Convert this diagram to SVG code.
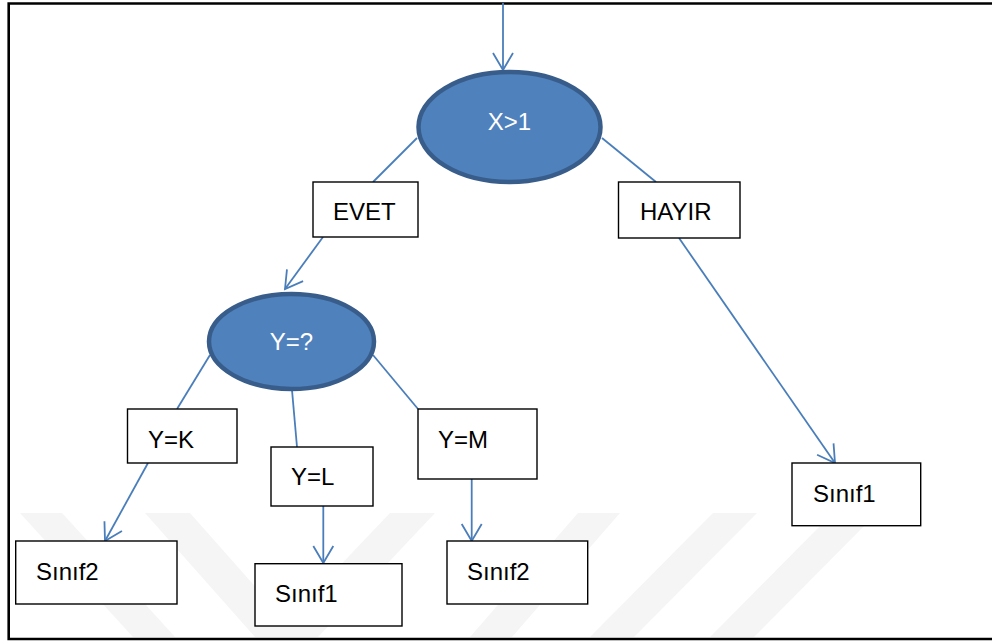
<svg xmlns="http://www.w3.org/2000/svg" width="992" height="642" viewBox="0 0 992 642">
  <style>
    .box { fill: #ffffff; stroke: #000000; stroke-width: 1.4; }
    .dec { fill: #4F81BD; stroke: #385D8A; stroke-width: 4.5; }
    .lbl { font-family: "Liberation Sans", Arial, sans-serif; font-size: 24px; fill: #000000; }
    .dlbl { font-family: "Liberation Sans", Arial, sans-serif; font-size: 24px; fill: #ffffff; }
    .edge { fill: none; stroke: #4A7EBB; stroke-width: 1.8; }
    .mark { fill: #F5F5F5; stroke: none; }
  </style>
  <defs>
    <marker id="open" markerUnits="userSpaceOnUse" viewBox="-20 -12 22 24" markerWidth="22" markerHeight="24" refX="0" refY="0" orient="auto" overflow="visible">
      <path d="M-17,-10 L0,0 L-17,10" fill="none" stroke="#4A7EBB" stroke-width="1.8"/>
    </marker>
  </defs>

  <rect x="0" y="0" width="992" height="642" fill="#ffffff"/>

  <!-- faint background stripes -->
  <g id="backdrop">
    <polygon class="mark" points="20,513 62,513 175,637 133,637"/>
    <polygon class="mark" points="145,513 190,513 300,637 255,637"/>
    <polygon class="mark" points="272,637 318,637 435,513 390,513"/>
    <polygon class="mark" points="470,637 512,637 620,513 578,513"/>
    <polygon class="mark" points="590,637 634,637 757,513 713,513"/>
    <polygon class="mark" points="710,637 754,637 877,513 833,513"/>
  </g>

  <!-- page frame -->
  <path d="M992,3.5 H8.7 V639 H992" fill="none" stroke="#000000" stroke-width="2.6"/>

  <g id="connectors">
    <line class="edge" x1="503" y1="3" x2="503" y2="70" marker-end="url(#open)"/>
    <line class="edge" x1="417" y1="138" x2="373" y2="182"/>
    <line class="edge" x1="323" y1="237" x2="285" y2="289" marker-end="url(#open)"/>
    <line class="edge" x1="602" y1="138" x2="656" y2="182"/>
    <line class="edge" x1="679" y1="238" x2="835" y2="463" marker-end="url(#open)"/>
    <line class="edge" x1="210" y1="355" x2="177" y2="409"/>
    <line class="edge" x1="148" y1="463" x2="105" y2="541" marker-end="url(#open)"/>
    <line class="edge" x1="292" y1="390" x2="297" y2="447"/>
    <line class="edge" x1="323.3" y1="506" x2="323.3" y2="563" marker-end="url(#open)"/>
    <line class="edge" x1="373" y1="355" x2="418" y2="409"/>
    <line class="edge" x1="471.7" y1="479" x2="471.7" y2="541" marker-end="url(#open)"/>
  </g>

  <g id="node-x">
    <ellipse class="dec" cx="509.5" cy="127" rx="91" ry="55"/>
    <text class="dlbl" x="509.5" y="129.5" text-anchor="middle">X&gt;1</text>
  </g>

  <g id="node-evet">
    <rect class="box" x="313" y="182" width="105" height="55"/>
    <text class="lbl" x="333" y="220">EVET</text>
  </g>

  <g id="node-hayir">
    <rect class="box" x="618.5" y="182" width="121.5" height="56"/>
    <text class="lbl" x="640" y="220">HAYIR</text>
  </g>

  <g id="node-y">
    <ellipse class="dec" cx="291.5" cy="341.5" rx="82.5" ry="47.5"/>
    <text class="dlbl" x="291.5" y="350" text-anchor="middle">Y=?</text>
  </g>

  <g id="node-yk">
    <rect class="box" x="127.5" y="409" width="109.5" height="54"/>
    <text class="lbl" x="148" y="448">Y=K</text>
  </g>

  <g id="node-yl">
    <rect class="box" x="271" y="447" width="102" height="59"/>
    <text class="lbl" x="291" y="485">Y=L</text>
  </g>

  <g id="node-ym">
    <rect class="box" x="418" y="409" width="119" height="70"/>
    <text class="lbl" x="438" y="448">Y=M</text>
  </g>

  <g id="leaf-k">
    <rect class="box" x="15.7" y="541" width="161.3" height="63"/>
    <text class="lbl" x="36" y="580">Sınıf2</text>
  </g>

  <g id="leaf-l">
    <rect class="box" x="255" y="563.7" width="147" height="62.3"/>
    <text class="lbl" x="275" y="601.7">Sınıf1</text>
  </g>

  <g id="leaf-m">
    <rect class="box" x="447" y="541" width="140.7" height="63"/>
    <text class="lbl" x="467" y="580">Sınıf2</text>
  </g>

  <g id="leaf-no">
    <rect class="box" x="792" y="463" width="128.7" height="62.7"/>
    <text class="lbl" x="813" y="501.7">Sınıf1</text>
  </g>
</svg>
